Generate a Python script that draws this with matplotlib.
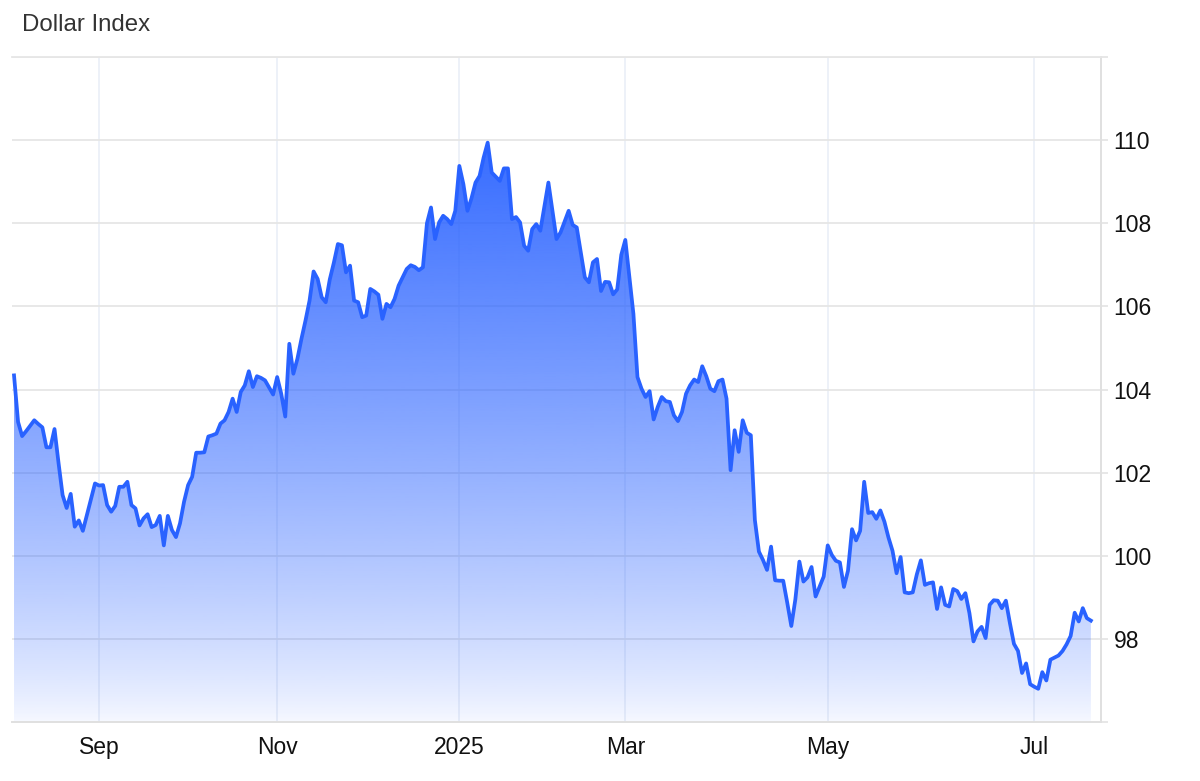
import numpy as np
import matplotlib
matplotlib.use("Agg")
from matplotlib import pyplot as plt

plt.rcParams['font.family'] = ['Liberation Sans', 'DejaVu Sans']

# Daily closes of the dollar index, grouped by month (Aug 2024 - Jul 2025).
aug = [104.34, 103.22, 102.88, 103.00, 103.13, 103.26, 103.17, 103.09, 102.61, 102.61,
       103.05, 102.23, 101.46, 101.15, 101.49, 100.70, 100.85, 100.60, 100.98, 101.36, 101.74]
sep = [101.69, 101.70, 101.22, 101.06, 101.20, 101.66, 101.66, 101.78, 101.22, 101.14,
       100.73, 100.90, 101.00, 100.69, 100.74, 100.96, 100.25, 100.96, 100.62, 100.45,
       100.78, 101.30]
oct = [101.70, 101.90, 102.48, 102.48, 102.49, 102.87, 102.90, 102.94, 103.18, 103.26,
       103.46, 103.78, 103.46, 103.94, 104.10, 104.44, 104.06, 104.32, 104.28, 104.22,
       104.05, 103.88]
nov = [104.30, 103.90, 103.35, 105.10, 104.38, 104.74, 105.22, 105.66, 106.14, 106.84,
       106.66, 106.22, 106.10, 106.65, 107.05, 107.50, 107.47, 106.82, 106.98, 106.14,
       106.10, 105.74, 105.78]
dec = [106.42, 106.36, 106.28, 105.70, 106.06, 105.98, 106.18, 106.50, 106.70, 106.90,
       106.99, 106.95, 106.87, 106.94, 108.00, 108.38, 107.62, 108.02, 108.18, 108.10,
       107.98, 108.30]
jan = [109.38, 108.94, 108.30, 108.60, 108.98, 109.14, 109.58, 109.94, 109.22, 109.12,
       109.02, 109.32, 109.32, 108.10, 108.15, 108.02, 107.46, 107.34, 107.86, 107.98, 107.82]
feb = [108.40, 108.98, 108.30, 107.62, 107.78, 108.04, 108.30, 107.96, 107.90, 107.30,
       106.70, 106.58, 107.06, 107.14, 106.37, 106.59, 106.58, 106.29, 106.41, 107.24]
mar = [107.60, 106.70, 105.82, 104.30, 104.02, 103.82, 103.96, 103.28, 103.58, 103.82,
       103.72, 103.70, 103.38, 103.24, 103.46, 103.90, 104.10, 104.24, 104.18, 104.56,
       104.32, 104.02, 103.96, 104.20, 104.24]
apr = [103.78, 102.06, 103.02, 102.50, 103.26, 102.96, 102.90, 100.86, 100.10, 99.90,
       99.66, 100.22, 99.41, 99.40, 99.40, 98.87, 98.31, 98.95, 99.86, 99.38,
       99.48, 99.73, 99.02, 99.26, 99.50]
may = [100.25, 100.02, 99.88, 99.84, 99.25, 99.64, 100.64, 100.37, 100.60, 101.78,
       101.03, 101.05, 100.89, 101.09, 100.82, 100.44, 100.12, 99.58, 99.97, 99.12,
       99.10, 99.12, 99.55, 99.89, 99.30, 99.34]
jun = [99.36, 98.72, 99.24, 98.82, 98.78, 99.20, 99.15, 98.96, 99.10, 98.62,
       97.94, 98.18, 98.29, 98.02, 98.82, 98.93, 98.92, 98.74, 98.92, 98.38,
       97.88, 97.71, 97.18, 97.41, 96.91]
jul = [96.85, 96.80, 97.20, 97.00, 97.50, 97.55, 97.60, 97.71, 97.87, 98.07,
       98.63, 98.42, 98.74, 98.50, 98.44]

months = [aug, sep, oct, nov, dec, jan, feb, mar, apr, may, jun, jul]
month_names = ['Aug', 'Sep', 'Oct', 'Nov', 'Dec', '2025', 'Feb', 'Mar', 'Apr', 'May', 'Jun', 'Jul']
shown_months = ['Sep', 'Nov', '2025', 'Mar', 'May', 'Jul']
y_ticks = [98, 100, 102, 104, 106, 108, 110]

values = np.concatenate(months)
x = np.arange(len(values))
month_start = np.cumsum([0] + [len(m) for m in months[:-1]])
tick_pos = [month_start[month_names.index(m)] for m in shown_months]

line_color = '#2962ff'
y_lo, y_hi = 96, 112

fig = plt.figure(figsize=(12, 7.81), dpi=100)
ax = fig.add_axes([0.01, 0.0755, 0.9075, 0.8515])

# gradient fill under the line
poly = ax.fill_between(x, values, y_lo, color='none', lw=0)
t = np.linspace(0, 1, 400)
alpha = 0.04 + 0.9 * np.clip(t * (y_hi - y_lo) / 14, 0, 1) ** 0.8
grad = np.zeros((400, 1, 4))
grad[..., :3] = matplotlib.colors.to_rgb(line_color)
grad[:, 0, 3] = alpha
im = ax.imshow(grad, extent=[x[0], x[-1], y_lo, y_hi], origin='lower',
               aspect='auto', zorder=2, interpolation='bilinear')
im.set_clip_path(poly.get_paths()[0], transform=ax.transData)

ax.plot(x, values, color=line_color, lw=2.7, zorder=3, solid_joinstyle='round')

ax.set_xlim(-0.5, 268.5)
ax.set_ylim(y_lo, y_hi)

ax.set_yticks(list(range(y_lo, y_hi + 1, 2)))
ax.set_yticklabels(['' if v not in y_ticks else str(v) for v in range(y_lo, y_hi + 1, 2)])
ax.yaxis.tick_right()
ax.tick_params(axis='y', length=5, width=1.2, pad=4, colors='#111111',
               labelsize=16.5, color='#e3e3e3')
ax.set_xticks(tick_pos)
ax.set_xticklabels(shown_months)
ax.tick_params(axis='x', length=0, pad=10, colors='#111111', labelsize=16.5)

ax.grid(axis='y', color='#e6e6e6', lw=1.3, zorder=1)
ax.grid(axis='x', color='#e8eef6', lw=1.1, zorder=1)

ax.spines['left'].set_visible(False)
ax.spines['top'].set_color('#e6e6e6')
ax.spines['top'].set_linewidth(1.3)
ax.spines['bottom'].set_color('#e0e0e0')
ax.spines['bottom'].set_linewidth(1.4)
ax.spines['right'].set_color('#e0e0e0')
ax.spines['right'].set_linewidth(1.4)

fig.text(22 / 1200, 1 - 25 / 781, 'Dollar Index', ha='left', va='center',
         fontsize=17.3, color='#333333')

fig.savefig('out.png', dpi=100)
